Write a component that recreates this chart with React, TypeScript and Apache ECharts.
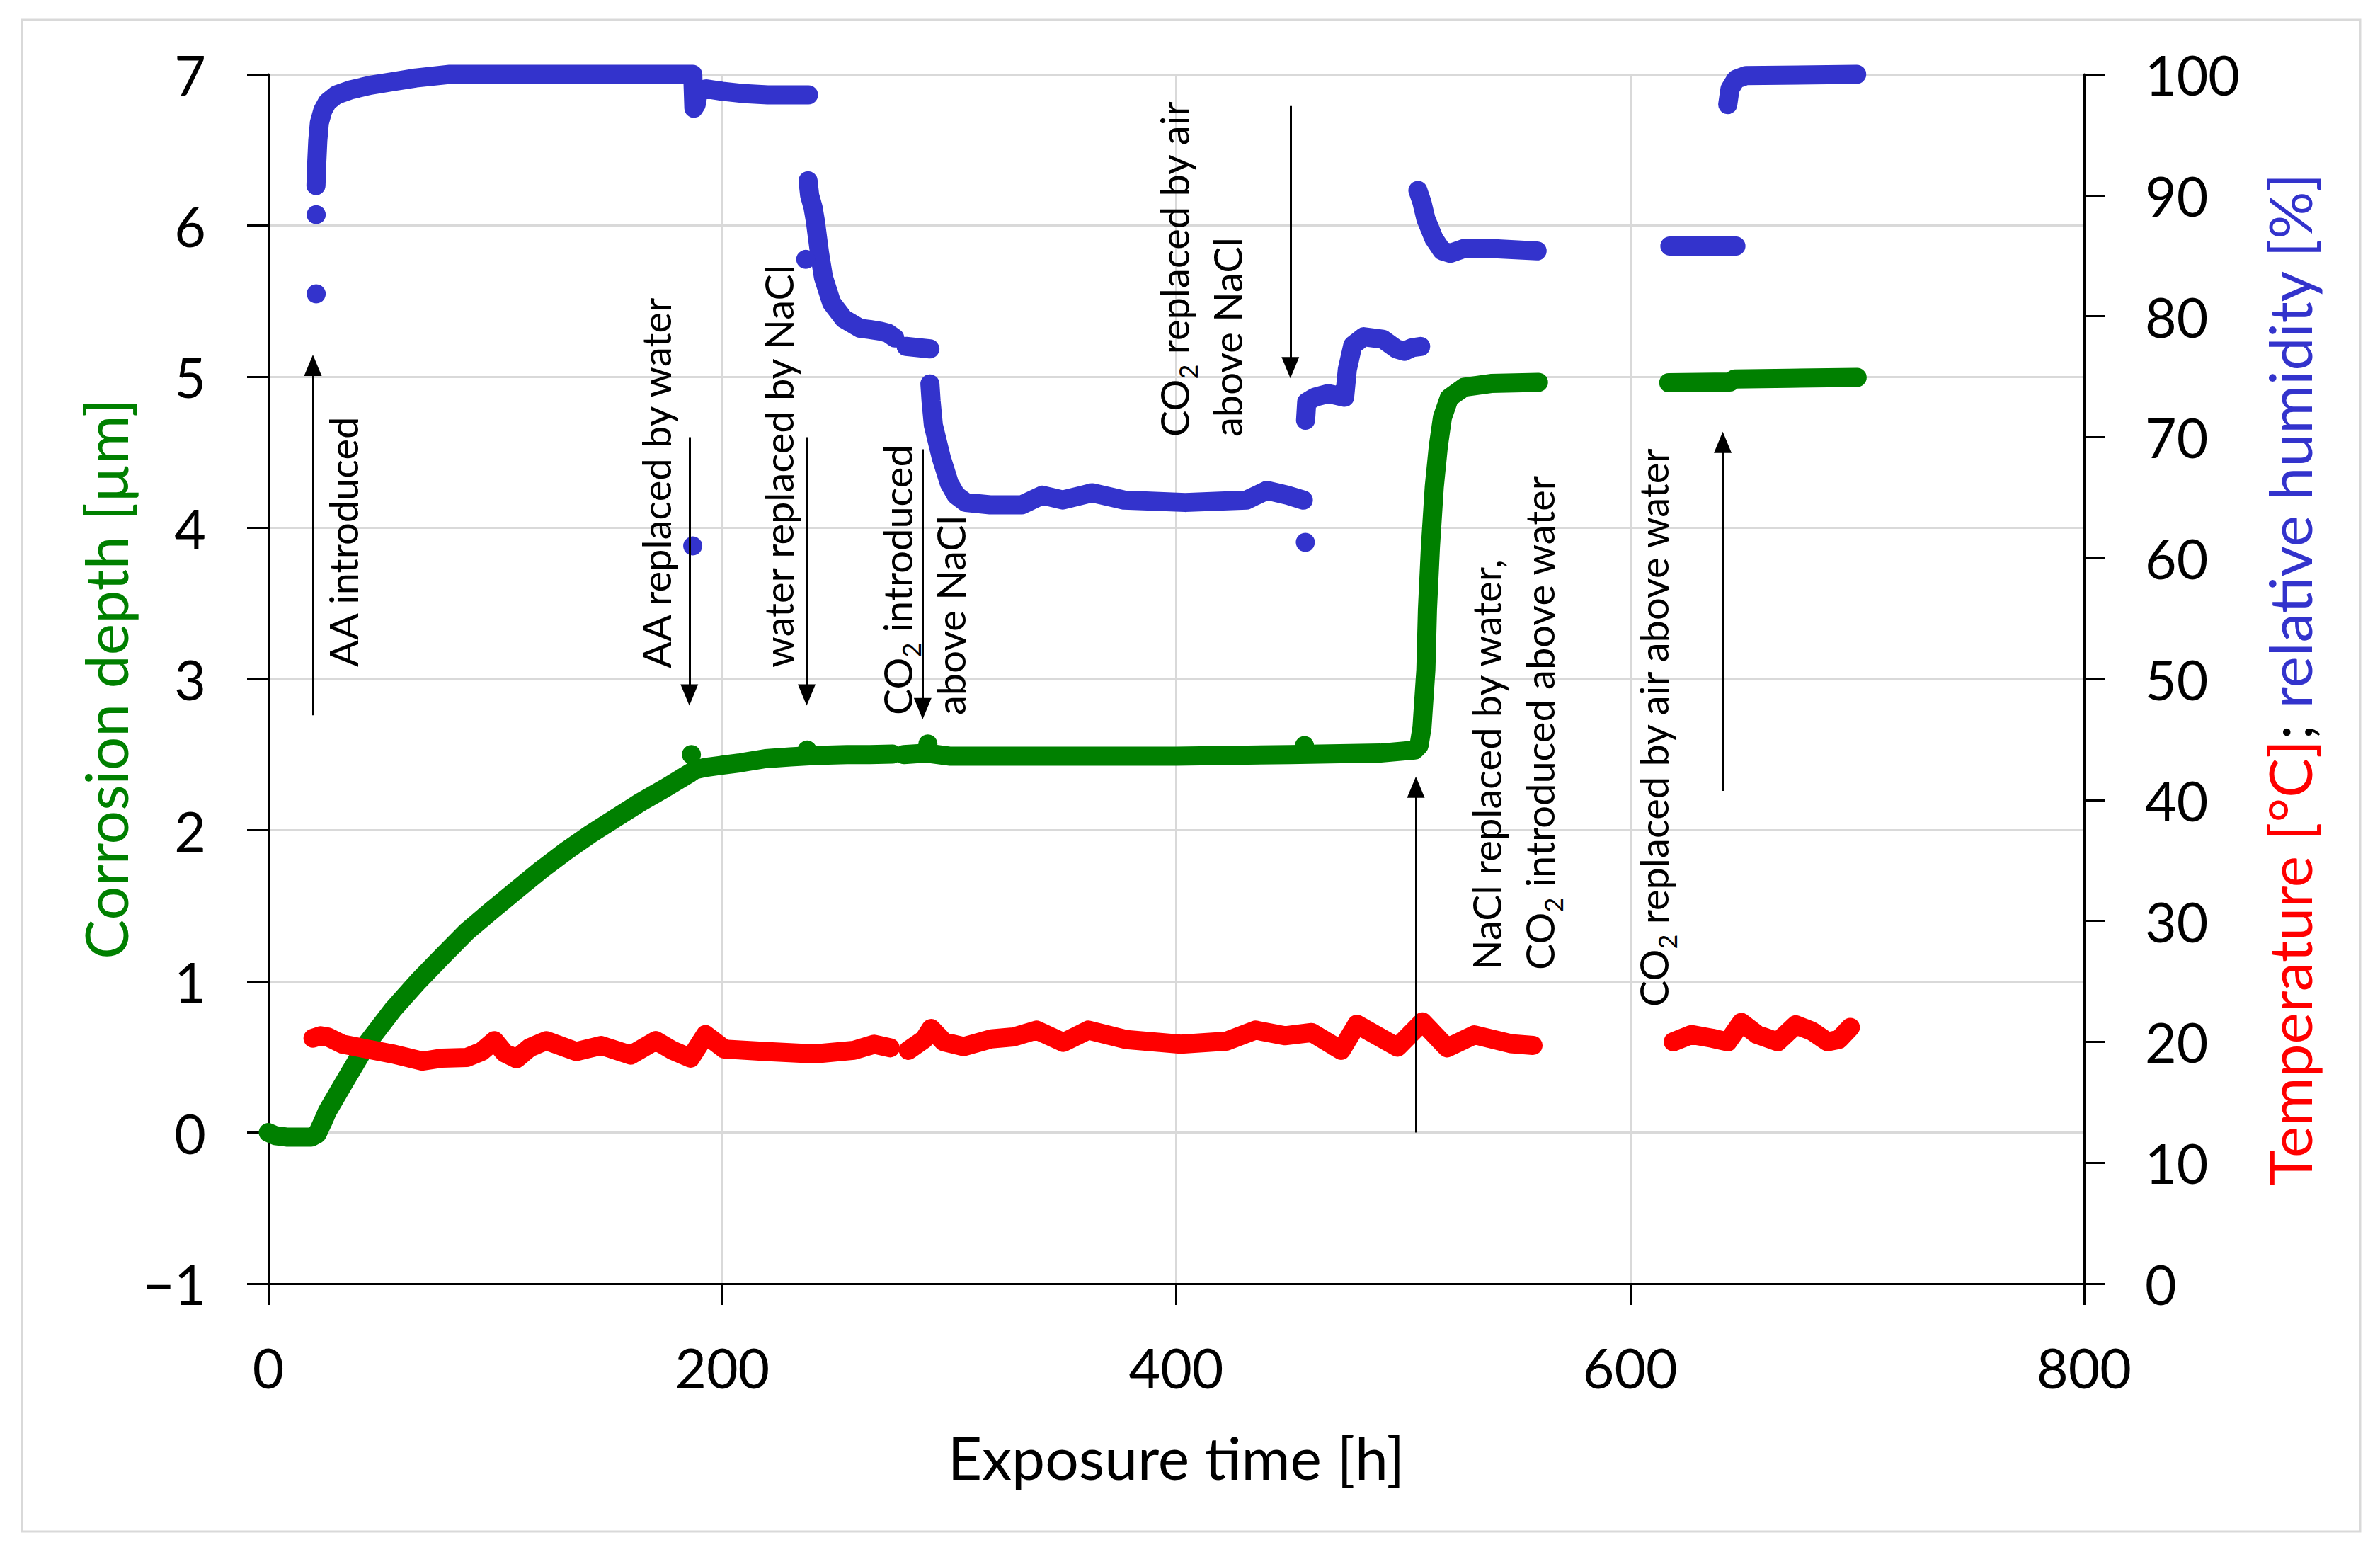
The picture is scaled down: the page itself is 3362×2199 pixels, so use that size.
import React, { useEffect, useRef } from "react";
import * as echarts from "echarts";

const FONT = "Lato";
const GREEN = "#008000";
const RED = "#FF0000";
const BLUE = "#3333CC";

// x axis: exposure time [h]
const X_MIN = 0, X_MAX = 800, X_STEP = 200;
// left axis: corrosion depth [µm]
const YL_MIN = -1, YL_MAX = 7, YL_STEP = 1;
// right axis: temperature [°C]; relative humidity [%]
const YR_MIN = 0, YR_MAX = 100, YR_STEP = 10;

// Corrosion depth [µm] (time h, depth)
const depthSeg1: [number, number][] = [
  [0, 0.0], [3, -0.02], [8, -0.03], [14, -0.03], [19, -0.03], [21.5, -0.01], [24, 0.07],
  [26, 0.14], [33, 0.32], [44, 0.6], [55, 0.815], [66, 1.0], [77, 1.17], [87.5, 1.33],
  [98.5, 1.47], [109, 1.6], [120, 1.735], [131, 1.86], [142, 1.975], [153, 2.08],
  [164, 2.185], [175, 2.28], [186, 2.38], [188, 2.4], [192.6, 2.415], [200, 2.43],
  [208, 2.446], [219, 2.473], [230, 2.485], [241, 2.494], [255, 2.5], [265, 2.5], [275, 2.503],
];
const depthSeg2: [number, number][] = [
  [280, 2.5], [290, 2.51], [300, 2.49], [320, 2.49], [350, 2.49], [400, 2.49], [450, 2.5],
  [490, 2.51], [505, 2.53], [507, 2.56], [508.3, 2.68], [510, 3.06], [510.7, 3.46], [512, 3.87],
  [513.7, 4.27], [515.5, 4.54], [517.3, 4.73], [520.3, 4.86], [526.8, 4.93], [538.7, 4.955],
  [559.6, 4.963],
];
const depthSeg3: [number, number][] = [
  [617, 4.96], [644, 4.965], [646, 4.985], [670, 4.99], [700, 4.995],
];
const depthDots: [number, number][] = [
  [186.4, 2.5], [237.4, 2.53], [290.6, 2.57], [456.5, 2.56],
];

// Temperature [°C]
const tempSeg1: [number, number][] = [
  [19.7, 20.3], [23, 20.5], [26.3, 20.4], [32.8, 19.8], [43.8, 19.4], [54.7, 19.0], [67.8, 18.4],
  [76.6, 18.65], [87.5, 18.7], [94, 19.2], [99.6, 20.1], [104, 19.1], [109.4, 18.6], [115, 19.5],
  [122.5, 20.1], [135.7, 19.2], [146.6, 19.7], [159.7, 18.9], [170.7, 20.1], [178, 19.3],
  [186, 18.65], [192.6, 20.6], [201, 19.4], [218.8, 19.2], [240.7, 19.0], [258, 19.3],
  [267, 19.8], [274, 19.5],
];
const tempSeg2: [number, number][] = [
  [282, 19.3], [288.9, 20.2], [292, 21.1], [297.6, 20.0], [306.3, 19.6], [318.5, 20.24],
  [328.2, 20.4], [338.4, 20.97], [350.3, 19.95], [361.3, 20.97], [378.2, 20.18], [402, 19.8],
  [422, 20.05], [434.9, 20.97], [447.8, 20.5], [459.7, 20.77], [472.7, 19.3], [479.6, 21.45],
  [497.5, 19.56], [508.5, 21.65], [519.4, 19.5], [531.4, 20.58], [547.3, 19.85], [557.2, 19.7],
];
const tempSeg3: [number, number][] = [
  [619, 20.0], [627, 20.6], [636, 20.3], [643, 20.0], [649, 21.6], [656, 20.6], [665, 20.0],
  [673, 21.4], [680, 20.9], [687, 20.0], [692, 20.2], [697, 21.2],
];

// Relative humidity [%]
const rhSeg1: [number, number][] = [
  [21.0, 90.8], [21.3, 92.5], [21.8, 94.5], [22.5, 96.0], [24, 97.0], [26, 97.7], [30, 98.3],
  [36, 98.7], [45, 99.1], [55, 99.4], [65, 99.7], [80, 100], [120, 100], [160, 100], [187, 100],
  [187.5, 97.2], [188.5, 97.5], [189.5, 98.6], [193, 98.8], [200, 98.6], [210, 98.4],
  [220, 98.3], [230, 98.3], [238, 98.3],
];
const rhSeg2: [number, number][] = [
  [237.8, 91.2], [238.5, 90.0], [240, 89.0], [241, 87.9], [242.8, 85.3], [244.6, 83.2],
  [248.2, 81.1], [253.5, 79.8], [260.7, 79.0], [265, 78.9], [269.7, 78.76], [273, 78.6], [276, 78.2],
];
const rhSeg3: [number, number][] = [[281, 77.5], [291.5, 77.3]];
const rhSeg4: [number, number][] = [
  [291.5, 74.4], [292, 73.0], [293, 71.0], [296.5, 68.3], [300, 66.2], [303, 65.2], [307.3, 64.6],
  [318, 64.4], [332, 64.4], [341, 65.2], [350, 64.8], [363, 65.4], [377, 64.8], [404, 64.6],
  [431, 64.8], [440, 65.6], [449, 65.2], [456, 64.8],
];
const rhSeg5: [number, number][] = [
  [457, 71.4], [457.5, 72.9], [461, 73.3], [467, 73.6], [474.2, 73.3], [475.4, 75.6],
  [477.8, 77.6], [482.6, 78.3], [491, 78.1], [497, 77.3], [500.5, 77.1], [504, 77.4], [507.7, 77.5],
];
const rhSeg6: [number, number][] = [
  [506.5, 90.4], [508.3, 89.4], [510, 88.05], [513.6, 86.4], [517.2, 85.4], [520.8, 85.2],
  [526.8, 85.6], [538.7, 85.6], [559, 85.4],
];
const rhSeg7: [number, number][] = [[617.5, 85.8], [646.6, 85.8]];
const rhSeg8: [number, number][] = [
  [643, 97.5], [644, 98.8], [646.6, 99.6], [651, 99.9], [699.8, 100],
];
const rhDots: [number, number][] = [
  [21.1, 81.85], [21.1, 88.4], [187, 61.0], [236.8, 84.7], [456.9, 61.3],
];

// Event arrows: [time, from depth, to depth(arrow head)]
const arrows: [number, number, number][] = [
  [19.65, 2.76, 5.075],
  [185.5, 4.6, 2.895],
  [237.2, 4.6, 2.895],
  [288.3, 4.52, 2.805],
  [450.3, 6.79, 5.06],
  [505.6, 0.0, 2.285],
  [640.8, 2.26, 4.565],
];

// Event labels ({s|2} = subscript)
const eventLabels: string[] = [
  "{n|AA introduced}",
  "{n|AA replaced by water}",
  "{n|water replaced by NaCl}",
  "{n|CO}{s|2}{n| introduced}\n{n|above NaCl}",
  "{n|CO}{s|2}{n| replaced by air}\n{n|above NaCl}",
  "{n|NaCl replaced by water,}\n{n|CO}{s|2}{n| introduced above water}",
  "{n|CO}{s|2}{n| replaced by air above water}",
];
const labelAnchors: [number, number][] = [
  [484, 942], [926, 944], [1099, 943], [1305, 1010], [1696, 617], [2137, 1370], [2335, 1422],
];

function joinSegs(...segs: [number, number][][]) {
  const out: any[] = [];
  segs.forEach((s, i) => {
    if (i > 0) out.push([null, null]);
    s.forEach((p) => out.push(p));
  });
  return out;
}

const lineStyleFor = (color: string) => ({
  color,
  width: 27,
  cap: "round" as const,
  join: "round" as const,
});

export default function App() {
  const ref = useRef<HTMLDivElement>(null);
  useEffect(() => {
    const chart = echarts.init(ref.current!, null, { renderer: "svg" });
    const axisLineStyle = { color: "#000", width: 3 };
    const gridStyle = { color: "#D9D9D9", width: 3 };
    const richAnn = {
      n: { fontFamily: FONT, fontSize: 56, fill: "#000", lineHeight: 75 },
      s: { fontFamily: FONT, fontSize: 36, fill: "#000", lineHeight: 28, verticalAlign: "bottom" },
    };
    const option: any = {
      animation: false,
      backgroundColor: "#fff",
      grid: { left: 379, right: 418, top: 105, bottom: 386, containLabel: false },
      xAxis: {
        type: "value",
        min: X_MIN,
        max: X_MAX,
        interval: X_STEP,
        name: "Exposure time [h]",
        nameLocation: "middle",
        nameGap: 202,
        nameTextStyle: { fontFamily: FONT, fontSize: 84, color: "#000" },
        axisLine: { show: true, onZero: false, lineStyle: axisLineStyle },
        axisTick: { show: true, length: 30, lineStyle: axisLineStyle },
        axisLabel: { fontFamily: FONT, fontSize: 77, color: "#000", margin: 79 },
        splitLine: { show: true, lineStyle: gridStyle },
      },
      yAxis: [
        {
          type: "value",
          position: "left",
          min: YL_MIN,
          max: YL_MAX,
          interval: YL_STEP,
          name: "Corrosion depth [µm]",
          nameLocation: "middle",
          nameRotate: 90,
          nameGap: 187,
          nameTextStyle: { fontFamily: FONT, fontSize: 84, color: GREEN },
          axisLine: { show: true, onZero: false, lineStyle: axisLineStyle },
          axisTick: { show: true, length: 30, lineStyle: axisLineStyle },
          axisLabel: {
            fontFamily: FONT,
            fontSize: 77,
            color: "#000",
            margin: 88,
            formatter: (v: number) => (v < 0 ? "\u2212" + Math.abs(v) : String(v)),
          },
          splitLine: { show: true, lineStyle: gridStyle },
        },
        {
          type: "value",
          position: "right",
          min: YR_MIN,
          max: YR_MAX,
          interval: YR_STEP,
          name: "{t|Temperature [°C]}{k|; }{h|relative humidity [%]}",
          nameLocation: "middle",
          nameRotate: 90,
          nameGap: 247,
          nameTextStyle: {
            fontFamily: FONT,
            fontSize: 84,
            rich: {
              t: { fontFamily: FONT, fontSize: 84, color: RED },
              k: { fontFamily: FONT, fontSize: 84, color: "#000" },
              h: { fontFamily: FONT, fontSize: 84, color: BLUE },
            },
          },
          axisLine: { show: true, onZero: false, lineStyle: axisLineStyle },
          axisTick: { show: true, length: 30, lineStyle: axisLineStyle },
          axisLabel: { fontFamily: FONT, fontSize: 77, color: "#000", margin: 86 },
          splitLine: { show: false },
        },
      ],
      series: [
        {
          type: "line",
          name: "Corrosion depth",
          yAxisIndex: 0,
          data: joinSegs(depthSeg1, depthSeg2, depthSeg3),
          showSymbol: false,
          connectNulls: false,
          clip: false,
          lineStyle: lineStyleFor(GREEN),
          z: 2,
        },
        {
          type: "scatter",
          yAxisIndex: 0,
          data: depthDots,
          symbolSize: 27,
          itemStyle: { color: GREEN, opacity: 1 },
          z: 2,
        },
        {
          type: "line",
          name: "Temperature",
          yAxisIndex: 1,
          data: joinSegs(tempSeg1, tempSeg2, tempSeg3),
          showSymbol: false,
          connectNulls: false,
          clip: false,
          lineStyle: lineStyleFor(RED),
          z: 3,
        },
        {
          type: "line",
          name: "Relative humidity",
          yAxisIndex: 1,
          data: joinSegs(rhSeg1, rhSeg2, rhSeg3, rhSeg4, rhSeg5, rhSeg6, rhSeg7, rhSeg8),
          showSymbol: false,
          connectNulls: false,
          clip: false,
          lineStyle: lineStyleFor(BLUE),
          z: 4,
        },
        {
          type: "scatter",
          yAxisIndex: 1,
          data: rhDots,
          symbolSize: 27,
          itemStyle: { color: BLUE, opacity: 1 },
          z: 4,
        },
        {
          type: "line",
          yAxisIndex: 0,
          data: [],
          silent: true,
          markLine: {
            silent: true,
            symbol: ["none", "triangle"],
            symbolSize: [25, 30],
            label: { show: false },
            emphasis: { disabled: true },
            lineStyle: { color: "#000", width: 3, type: "solid" },
            data: arrows.map(([t, a, b]) => [{ coord: [t, a] }, { coord: [t, b] }]),
          },
          z: 10,
        },
      ],
      graphic: [
        {
          type: "rect",
          shape: { x: 31, y: 28, width: 3303, height: 2135 },
          style: { fill: "none", stroke: "#D9D9D9", lineWidth: 3 },
          silent: true,
          z: -10,
        },
        ...eventLabels.map((text, i) => ({
          type: "text",
          x: labelAnchors[i][0],
          y: labelAnchors[i][1],
          rotation: Math.PI / 2,
          silent: true,
          z: 20,
          style: {
            text,
            textAlign: "left",
            textVerticalAlign: "middle",
            fontFamily: FONT,
            fontSize: 56,
            fill: "#000",
            rich: richAnn,
          },
        })),
      ],
    };
    chart.setOption(option);
    return () => chart.dispose();
  }, []);
  return (
    <div
      ref={ref}
      style={{ position: "absolute", left: 0, top: 0, width: 3362, height: 2199, background: "#fff" }}
    />
  );
}
